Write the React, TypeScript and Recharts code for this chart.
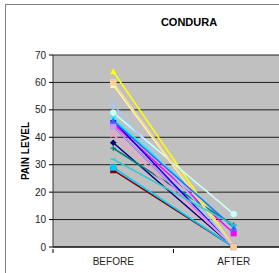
import React from "react";
import { LineChart, Line, XAxis, YAxis, CartesianGrid } from "recharts";

const categories = ["BEFORE", "AFTER"];
const yTicks = [0, 10, 20, 30, 40, 50, 60, 70];

const seriesColors = [
  "#000080", "#FF00FF", "#FFFF00", "#00FFFF", "#800080", "#800000",
  "#008080", "#0000FF", "#00CCFF", "#CCFFFF", "#CCFFCC", "#FFFF99",
  "#99CCFF", "#FF99CC", "#CC99FF", "#FFCC99", "#3366FF", "#33CCCC",
];
const seriesMarkers = [
  "diamond", "square", "triangle", "x", "star", "square",
  "plus", "dash", "square", "circle", "square", "triangle",
  "x", "x", "square", "square", "triangle", "dash",
];
const beforeValues = [38, 45, 64, 47, 44, 28, 36, 46, 29, 49, 60, 59, 52, 41, 44, 60, 46, 32];
const afterValues = [0, 5, 0, 7, 0, 0, 8, 0, 0, 12, 0, 0, 0, 0, 0, 0, 7, 8];

const data = categories.map((c, i) => {
  const row: any = { x: i + 0.5, label: c };
  seriesColors.forEach((_, s) => {
    row["s" + s] = i === 0 ? beforeValues[s] : afterValues[s];
  });
  return row;
});

const makeDot = (shape: string, color: string) => (props: any) => {
  const { cx, cy, key } = props;
  if (cx == null || cy == null) return <g key={key} />;
  const r = 2.8;
  switch (shape) {
    case "square":
      return <rect key={key} x={cx - r} y={cy - r} width={r * 2} height={r * 2} fill={color} stroke={color} strokeWidth={0.5} />;
    case "diamond":
      return <polygon key={key} points={`${cx},${cy - r - 0.5} ${cx + r + 0.5},${cy} ${cx},${cy + r + 0.5} ${cx - r - 0.5},${cy}`} fill={color} />;
    case "triangle":
      return <polygon key={key} points={`${cx},${cy - r - 0.5} ${cx + r + 0.5},${cy + r} ${cx - r - 0.5},${cy + r}`} fill={color} />;
    case "circle":
      return <circle key={key} cx={cx} cy={cy} r={r} fill={color} stroke={color} />;
    case "x":
      return (
        <g key={key} stroke={color} strokeWidth={1.2}>
          <line x1={cx - r} y1={cy - r} x2={cx + r} y2={cy + r} />
          <line x1={cx - r} y1={cy + r} x2={cx + r} y2={cy - r} />
        </g>
      );
    case "star":
      return (
        <g key={key} stroke={color} strokeWidth={1.2}>
          <line x1={cx - r} y1={cy - r} x2={cx + r} y2={cy + r} />
          <line x1={cx - r} y1={cy + r} x2={cx + r} y2={cy - r} />
          <line x1={cx} y1={cy - r} x2={cx} y2={cy + r} />
        </g>
      );
    case "plus":
      return (
        <g key={key} stroke={color} strokeWidth={1.2}>
          <line x1={cx - r} y1={cy} x2={cx + r} y2={cy} />
          <line x1={cx} y1={cy - r} x2={cx} y2={cy + r} />
        </g>
      );
    case "dash":
    default:
      return <line key={key} x1={cx - r} y1={cy} x2={cx + r} y2={cy} stroke={color} strokeWidth={1.5} />;
  }
};

const XTick = (props: any) => {
  const { x, y, payload } = props;
  const v = payload.value;
  if (Number.isInteger(v)) {
    return <line x1={x} y1={y} x2={x} y2={y + 4} stroke="#000" strokeWidth={1} />;
  }
  return (
    <text x={x} y={y + 16} textAnchor="middle" fontSize={10} fill="#222" fontFamily="Liberation Sans, Arial, sans-serif">
      {categories[Math.floor(v)]}
    </text>
  );
};

export default function App() {
  return (
    <div style={{ position: "fixed", left: 0, top: 0, width: 279, height: 273, overflow: "hidden", background: "#fff" }}>
      <style>{"html,body{overflow:hidden;margin:0;}"}</style>
      <div style={{ position: "absolute", left: 5, top: 4, width: 400, height: 400, border: "1px solid #808080", boxSizing: "border-box" }} />
      <div
        style={{
          position: "absolute", left: 189, top: 16, transform: "translateX(-50%)",
          fontFamily: "Liberation Sans, Arial, sans-serif", fontWeight: "bold", fontSize: 11, lineHeight: "13px",
          color: "#000", whiteSpace: "nowrap",
        }}
      >
        CONDURA
      </div>
      <div
        style={{
          position: "absolute", left: 25.5, top: 151, transform: "translate(-50%, -50%) rotate(-90deg)",
          fontFamily: "Liberation Sans, Arial, sans-serif", fontWeight: "bold", fontSize: 10, lineHeight: "12px",
          color: "#000", whiteSpace: "nowrap",
        }}
      >
        PAIN LEVEL
      </div>
      <div style={{ position: "absolute", left: 0, top: 0, width: 320, height: 273 }}>
        <LineChart width={320} height={273} data={data} margin={{ top: 55, right: 26, left: 0, bottom: 0 }}>
          <CartesianGrid horizontal vertical={false} fill="#C0C0C0" stroke="#000" strokeOpacity={0.85} />
          <XAxis
            type="number"
            dataKey="x"
            domain={[0, 2]}
            ticks={[0, 0.5, 1, 1.5, 2]}
            interval={0}
            height={26}
            tickSize={0}
            tickLine={false}
            tick={<XTick />}
            axisLine={{ stroke: "#000" }}
          />
          <YAxis
            type="number"
            domain={[0, 70]}
            ticks={yTicks}
            interval={0}
            width={53}
            tickSize={4}
            tickMargin={3}
            tickLine={{ stroke: "#000" }}
            axisLine={{ stroke: "#333" }}
            tick={{ fontSize: 10, fill: "#222", fontFamily: "Liberation Sans, Arial, sans-serif" }}
          />
          {seriesColors.map((color, s) => (
            <Line
              key={s}
              type="linear"
              dataKey={"s" + s}
              stroke={color}
              strokeWidth={1.5}
              dot={makeDot(seriesMarkers[s], color)}
              activeDot={false}
              isAnimationActive={false}
            />
          ))}
        </LineChart>
      </div>
    </div>
  );
}
